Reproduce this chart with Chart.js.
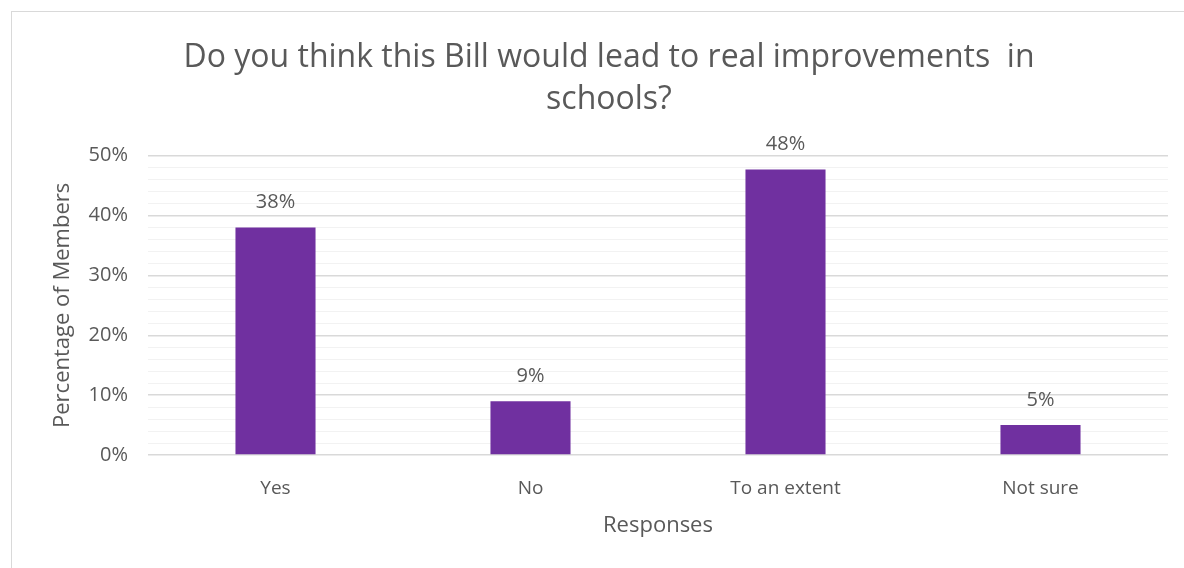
<!DOCTYPE html>
<html>
<head>
<meta charset="utf-8">
<script src="https://cdn.jsdelivr.net/npm/chart.js@4"></script>
<style>
  html, body { margin: 0; padding: 0; background: #fff; overflow: hidden; }
  #frame {
    position: absolute; left: 11px; top: 11px;
    width: 1188px; height: 580px;
    border: 1px solid #d9d9d9; box-sizing: border-box;
  }
  #chart { display: block; }
</style>
</head>
<body>
<div id="frame"><canvas id="chart" width="1186" height="556"></canvas></div>
<script>
// values
const categories = ["Yes", "No", "To an extent", "Not sure"];
const percentMembers = [38, 9, 47.7, 5];
const yTicks = [0, 10, 20, 30, 40, 50];

const textColor = "#595959";
const fontFamily = "'Open Sans', sans-serif";

// draws "38%" etc above each bar
const barLabels = {
  id: "barLabels",
  afterDatasetsDraw(chart) {
    const ctx = chart.ctx;
    const meta = chart.getDatasetMeta(0);
    ctx.save();
    ctx.fillStyle = textColor;
    ctx.font = "20px " + fontFamily;
    ctx.textAlign = "center";
    ctx.textBaseline = "middle";
    meta.data.forEach((bar, i) => {
      ctx.fillText(Math.round(percentMembers[i]) + "%", bar.x, bar.y - 25);
    });
    ctx.restore();
  },
};

const ctx = document.getElementById("chart").getContext("2d");
new Chart(ctx, {
  type: "bar",
  data: {
    labels: categories,
    datasets: [
      {
        label: "Percentage of Members",
        data: percentMembers,
        backgroundColor: "#7030A0",
        borderWidth: 0,
        categoryPercentage: 1,
        barPercentage: 0.314,
      },
    ],
  },
  options: {
    responsive: false,
    animation: false,
    layout: { padding: { left: 38, right: 30, top: 0, bottom: 25 } },
    plugins: {
      legend: { display: false },
      tooltip: { enabled: false },
      title: {
        display: true,
        text: ["Do you think this Bill would lead to real improvements  in", "schools?"],
        color: textColor,
        font: { family: fontFamily, size: 32, weight: "normal", lineHeight: 1.34 },
        padding: { top: 24, bottom: 34 },
      },
    },
    scales: {
      x: {
        afterFit(scale) { scale.height = 88; },
        grid: { display: false, drawTicks: false },
        border: { display: false },
        ticks: { color: textColor, padding: 22, font: { family: fontFamily, size: 19 } },
        title: {
          display: true,
          text: "Responses",
          color: textColor,
          font: { family: fontFamily, size: 22 },
          padding: { top: 14, bottom: 4 },
        },
      },
      y: {
        min: 0,
        max: 50,
        afterFit(scale) { scale.width = 98; },
        afterBuildTicks(scale) {
          // minor lines every 2%
          const t = [];
          for (let v = 0; v <= 50; v += 2) t.push({ value: v });
          scale.ticks = t;
        },
        grid: {
          drawTicks: false,
          color: (c) => (yTicks.includes(c.tick.value) ? "#d9d9d9" : "#f2f2f2"),
          lineWidth: (c) => (yTicks.includes(c.tick.value) ? 1.5 : 1),
        },
        border: { display: false },
        ticks: {
          autoSkip: false,
          color: textColor,
          padding: 20,
          font: { family: fontFamily, size: 20 },
          callback: (v) => (yTicks.includes(v) ? v + "%" : ""),
        },
        title: {
          display: true,
          text: "Percentage of Members",
          color: textColor,
          font: { family: fontFamily, size: 22 },
          padding: 0,
        },
      },
    },
  },
  plugins: [barLabels],
});
</script>
</body>
</html>
